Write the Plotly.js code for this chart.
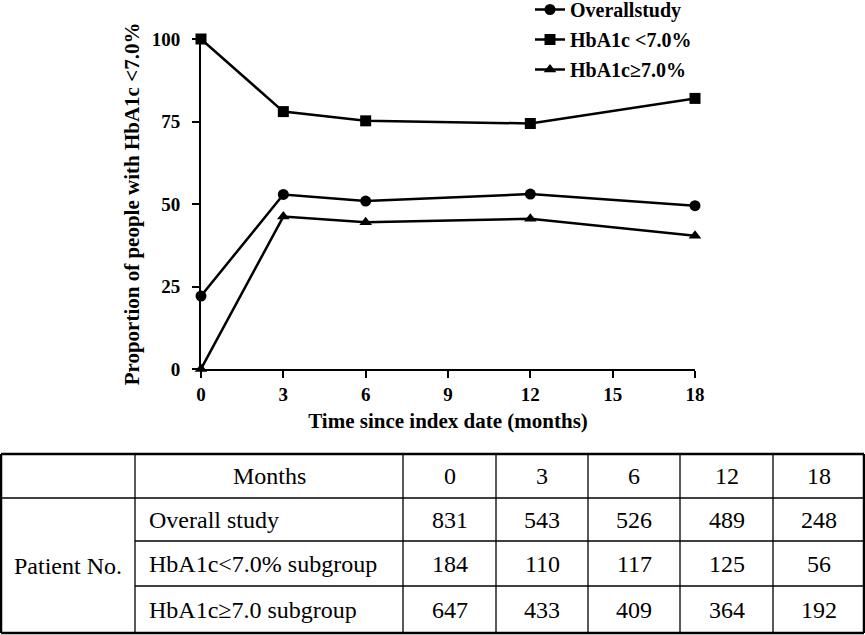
<!DOCTYPE html>
<html>
<head>
<meta charset="utf-8">
<script src="https://cdn.plot.ly/plotly-3.0.1.min.js"></script>
<style>
  html, body { margin: 0; padding: 0; background: #fff; }
  #plot { width: 865px; height: 635px; }
</style>
</head>
<body>
<div id="plot"></div>
<script>
// time points (months) and proportions
var timePoints = [0, 3, 6, 12, 18];
var overallPct = [22.1, 52.9, 50.9, 53.0, 49.5];
var lowPct = [100, 78.0, 75.2, 74.4, 82.0];
var highPct = [0, 46.2, 44.5, 45.5, 40.4];

// table under the chart
var tableMonths = [0, 3, 6, 12, 18];
var rowLabels = ["Overall study", "HbA1c<7.0% subgroup", "HbA1c\u22657.0 subgroup"];
var overallN = [831, 543, 526, 489, 248];
var lowN = [184, 110, 117, 125, 56];
var highN = [647, 433, 409, 364, 192];

var W = 865, H = 635;
// pixel -> paper helpers
function px(v) { return v / W; }
function py(v) { return 1 - v / H; }

var serifFam = "Liberation Serif, Times New Roman, serif";
var legendFont = { family: serifFam, size: 20, color: "#000", weight: "bold" };
var titleFont = { family: serifFam, size: 21, color: "#000", weight: "bold" };
var tickFont = { family: serifFam, size: 19, color: "#000", weight: "bold" };
var serif = { family: serifFam, size: 24, color: "#000" };

function series(name, y, symbol) {
  return {
    x: timePoints,
    y: y,
    name: name,
    type: "scatter",
    mode: "lines+markers",
    line: { color: "#000", width: 2.5 },
    marker: { color: "#000", size: 11, symbol: symbol },
    cliponaxis: false,
    legendgroup: name
  };
}

var data = [
  series("Overallstudy", overallPct, "circle"),
  series("HbA1c <7.0%", lowPct, "square"),
  series("HbA1c\u22657.0%", highPct, "triangle-up")
];

// table grid (pixel positions)
var colEdges = [0, 135, 403, 496, 588, 680, 773, 865];
var rowEdges = [454, 498, 541, 586, 633];

var shapes = [];
function line(x0, y0, x1, y1, w) {
  shapes.push({ type: "line", xref: "paper", yref: "paper",
    x0: px(x0), y0: py(y0), x1: px(x1), y1: py(y1),
    line: { color: "#000", width: w } });
}
// outer border
line(1, rowEdges[0], 864, rowEdges[0], 2.5);
line(1, rowEdges[4], 864, rowEdges[4], 2.5);
line(1, rowEdges[0], 1, rowEdges[4], 2.5);
line(864, rowEdges[0], 864, rowEdges[4], 2.5);
// header separator full width, body separators skip first column
line(0, rowEdges[1], 865, rowEdges[1], 1.3);
line(colEdges[1], rowEdges[2], 865, rowEdges[2], 1.3);
line(colEdges[1], rowEdges[3], 865, rowEdges[3], 1.3);
for (var c = 1; c < colEdges.length - 1; c++) {
  line(colEdges[c], rowEdges[0], colEdges[c], rowEdges[4], 1.3);
}

var annotations = [];
function cell(text, xPix, yPix, anchor) {
  annotations.push({ xref: "paper", yref: "paper", x: px(xPix), y: py(yPix),
    text: String(text), showarrow: false, xanchor: anchor || "center", yanchor: "middle",
    font: serif });
}
function mid(a, b) { return (a + b) / 2; }

cell("Months", mid(colEdges[1], colEdges[2]), mid(rowEdges[0], rowEdges[1]));
for (var i = 0; i < tableMonths.length; i++) {
  cell(tableMonths[i], mid(colEdges[i + 2], colEdges[i + 3]), mid(rowEdges[0], rowEdges[1]));
}
cell("Patient No.", mid(colEdges[0], colEdges[1]), mid(rowEdges[1], rowEdges[4]));
var bodyRows = [overallN, lowN, highN];
for (var r = 0; r < bodyRows.length; r++) {
  var yc = mid(rowEdges[r + 1], rowEdges[r + 2]);
  cell(rowLabels[r], colEdges[1] + 12, yc, "left");
  for (var j = 0; j < bodyRows[r].length; j++) {
    cell(bodyRows[r][j], mid(colEdges[j + 2], colEdges[j + 3]), yc);
  }
}

var layout = {
  width: W,
  height: H,
  margin: { l: 0, r: 0, t: 0, b: 0, autoexpand: false },
  paper_bgcolor: "#fff",
  plot_bgcolor: "#fff",
  showlegend: true,
  legend: {
    x: px(530), y: py(-10), xanchor: "left", yanchor: "top",
    font: legendFont, traceorder: "grouped", tracegroupgap: 1,
    itemwidth: 30, bgcolor: "rgba(0,0,0,0)"
  },
  xaxis: {
    domain: [px(201), px(695)],
    range: [0, 18],
    tickvals: [0, 3, 6, 9, 12, 15, 18],
    showgrid: false, zeroline: false,
    showline: true, linecolor: "#000", linewidth: 2,
    ticks: "outside", ticklen: 7, tickwidth: 2, tickcolor: "#000",
    tickfont: tickFont,
    title: { text: "Time since index date (months)", font: titleFont, standoff: 10 },
    automargin: false
  },
  yaxis: {
    domain: [py(369), py(39)],
    range: [0, 100],
    tickvals: [0, 25, 50, 75, 100],
    showgrid: false, zeroline: false,
    showline: true, linecolor: "#000", linewidth: 2,
    ticks: "outside", ticklen: 7, tickwidth: 2, tickcolor: "#000",
    ticklabelstandoff: 8,
    tickfont: tickFont,
    title: { text: "Proportion of people with HbA1c <7.0%", font: titleFont, standoff: 6 },
    automargin: false
  },
  shapes: shapes,
  annotations: annotations
};

Plotly.newPlot("plot", data, layout, { staticPlot: true });
</script>
</body>
</html>
